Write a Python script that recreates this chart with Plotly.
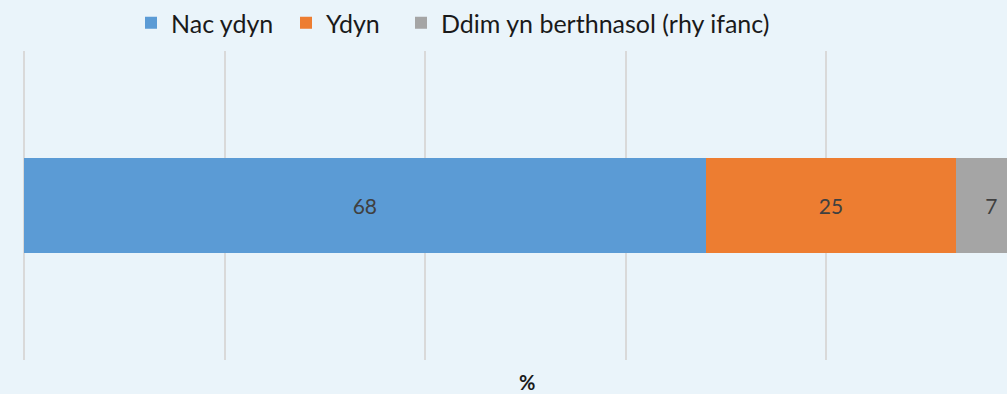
import plotly.graph_objects as go

# Survey response shares (percent)
categories = [""]
series_names = ["Nac ydyn", "Ydyn", "Ddim yn berthnasol (rhy ifanc)"]
series_values = [[68], [25], [7]]
series_colors = ["#5B9BD5", "#ED7D31", "#A5A5A5"]
axis_title = "%"

W, H = 1007, 394
ML, MR, MT, MB = 24, 0, 50, 34
plot_w = W - ML - MR
plot_h = H - MT - MB

# Left edge (px) of each legend entry along the top
legend_left_px = [131, 286, 401]
legend_ids = ["legend", "legend2", "legend3"]

fig = go.Figure()
for name, vals, col, lid in zip(series_names, series_values, series_colors, legend_ids):
    fig.add_trace(go.Bar(
        y=categories, x=vals, name=name, orientation="h",
        marker=dict(color=col, line=dict(width=0)),
        text=vals, texttemplate="%{x}", textposition="inside",
        insidetextanchor="middle", constraintext="none",
        textfont=dict(color="#404040", size=21, family="Lato"),
        hoverinfo="skip", legend=lid,
    ))

# Axis spans 0..100 at ~10.03 px per unit; the right end runs past the window edge
x_max = plot_w / 10.025

legend_common = dict(
    orientation="h", xanchor="left", yanchor="bottom", yref="paper",
    y=1 + 5 / plot_h,
    font=dict(size=25, color="#1a1a1a", family="Lato"),
    itemwidth=30, bgcolor="rgba(0,0,0,0)",
)
legend_layouts = {
    lid: dict(legend_common, x=(px - ML) / plot_w)
    for lid, px in zip(legend_ids, legend_left_px)
}

fig.update_layout(
    width=W, height=H,
    barmode="stack", bargap=0.69,
    paper_bgcolor="#EAF4FA", plot_bgcolor="#EAF4FA",
    margin=dict(l=ML, r=MR, t=MT, b=MB, pad=0),
    font=dict(family="Lato", color="#404040"),
    showlegend=True,
    xaxis=dict(
        range=[0, x_max], dtick=20, tick0=0,
        showgrid=True, gridcolor="#D9D9D9", gridwidth=2,
        zeroline=True, zerolinecolor="#D9D9D9", zerolinewidth=2,
        showticklabels=False, showline=False, ticks="",
        fixedrange=True,
    ),
    yaxis=dict(
        showgrid=False, showticklabels=False, zeroline=False,
        showline=False, ticks="", range=[-0.5, 0.5], fixedrange=True,
    ),
    annotations=[dict(
        text="<b>%s</b>" % axis_title, xref="paper", yref="paper",
        x=(527 - ML) / plot_w, y=0, yshift=-22, xanchor="center", yanchor="middle",
        showarrow=False, font=dict(size=20, color="#1a1a1a", family="Lato"),
    )],
    **legend_layouts,
)

fig.write_html("out.html")
